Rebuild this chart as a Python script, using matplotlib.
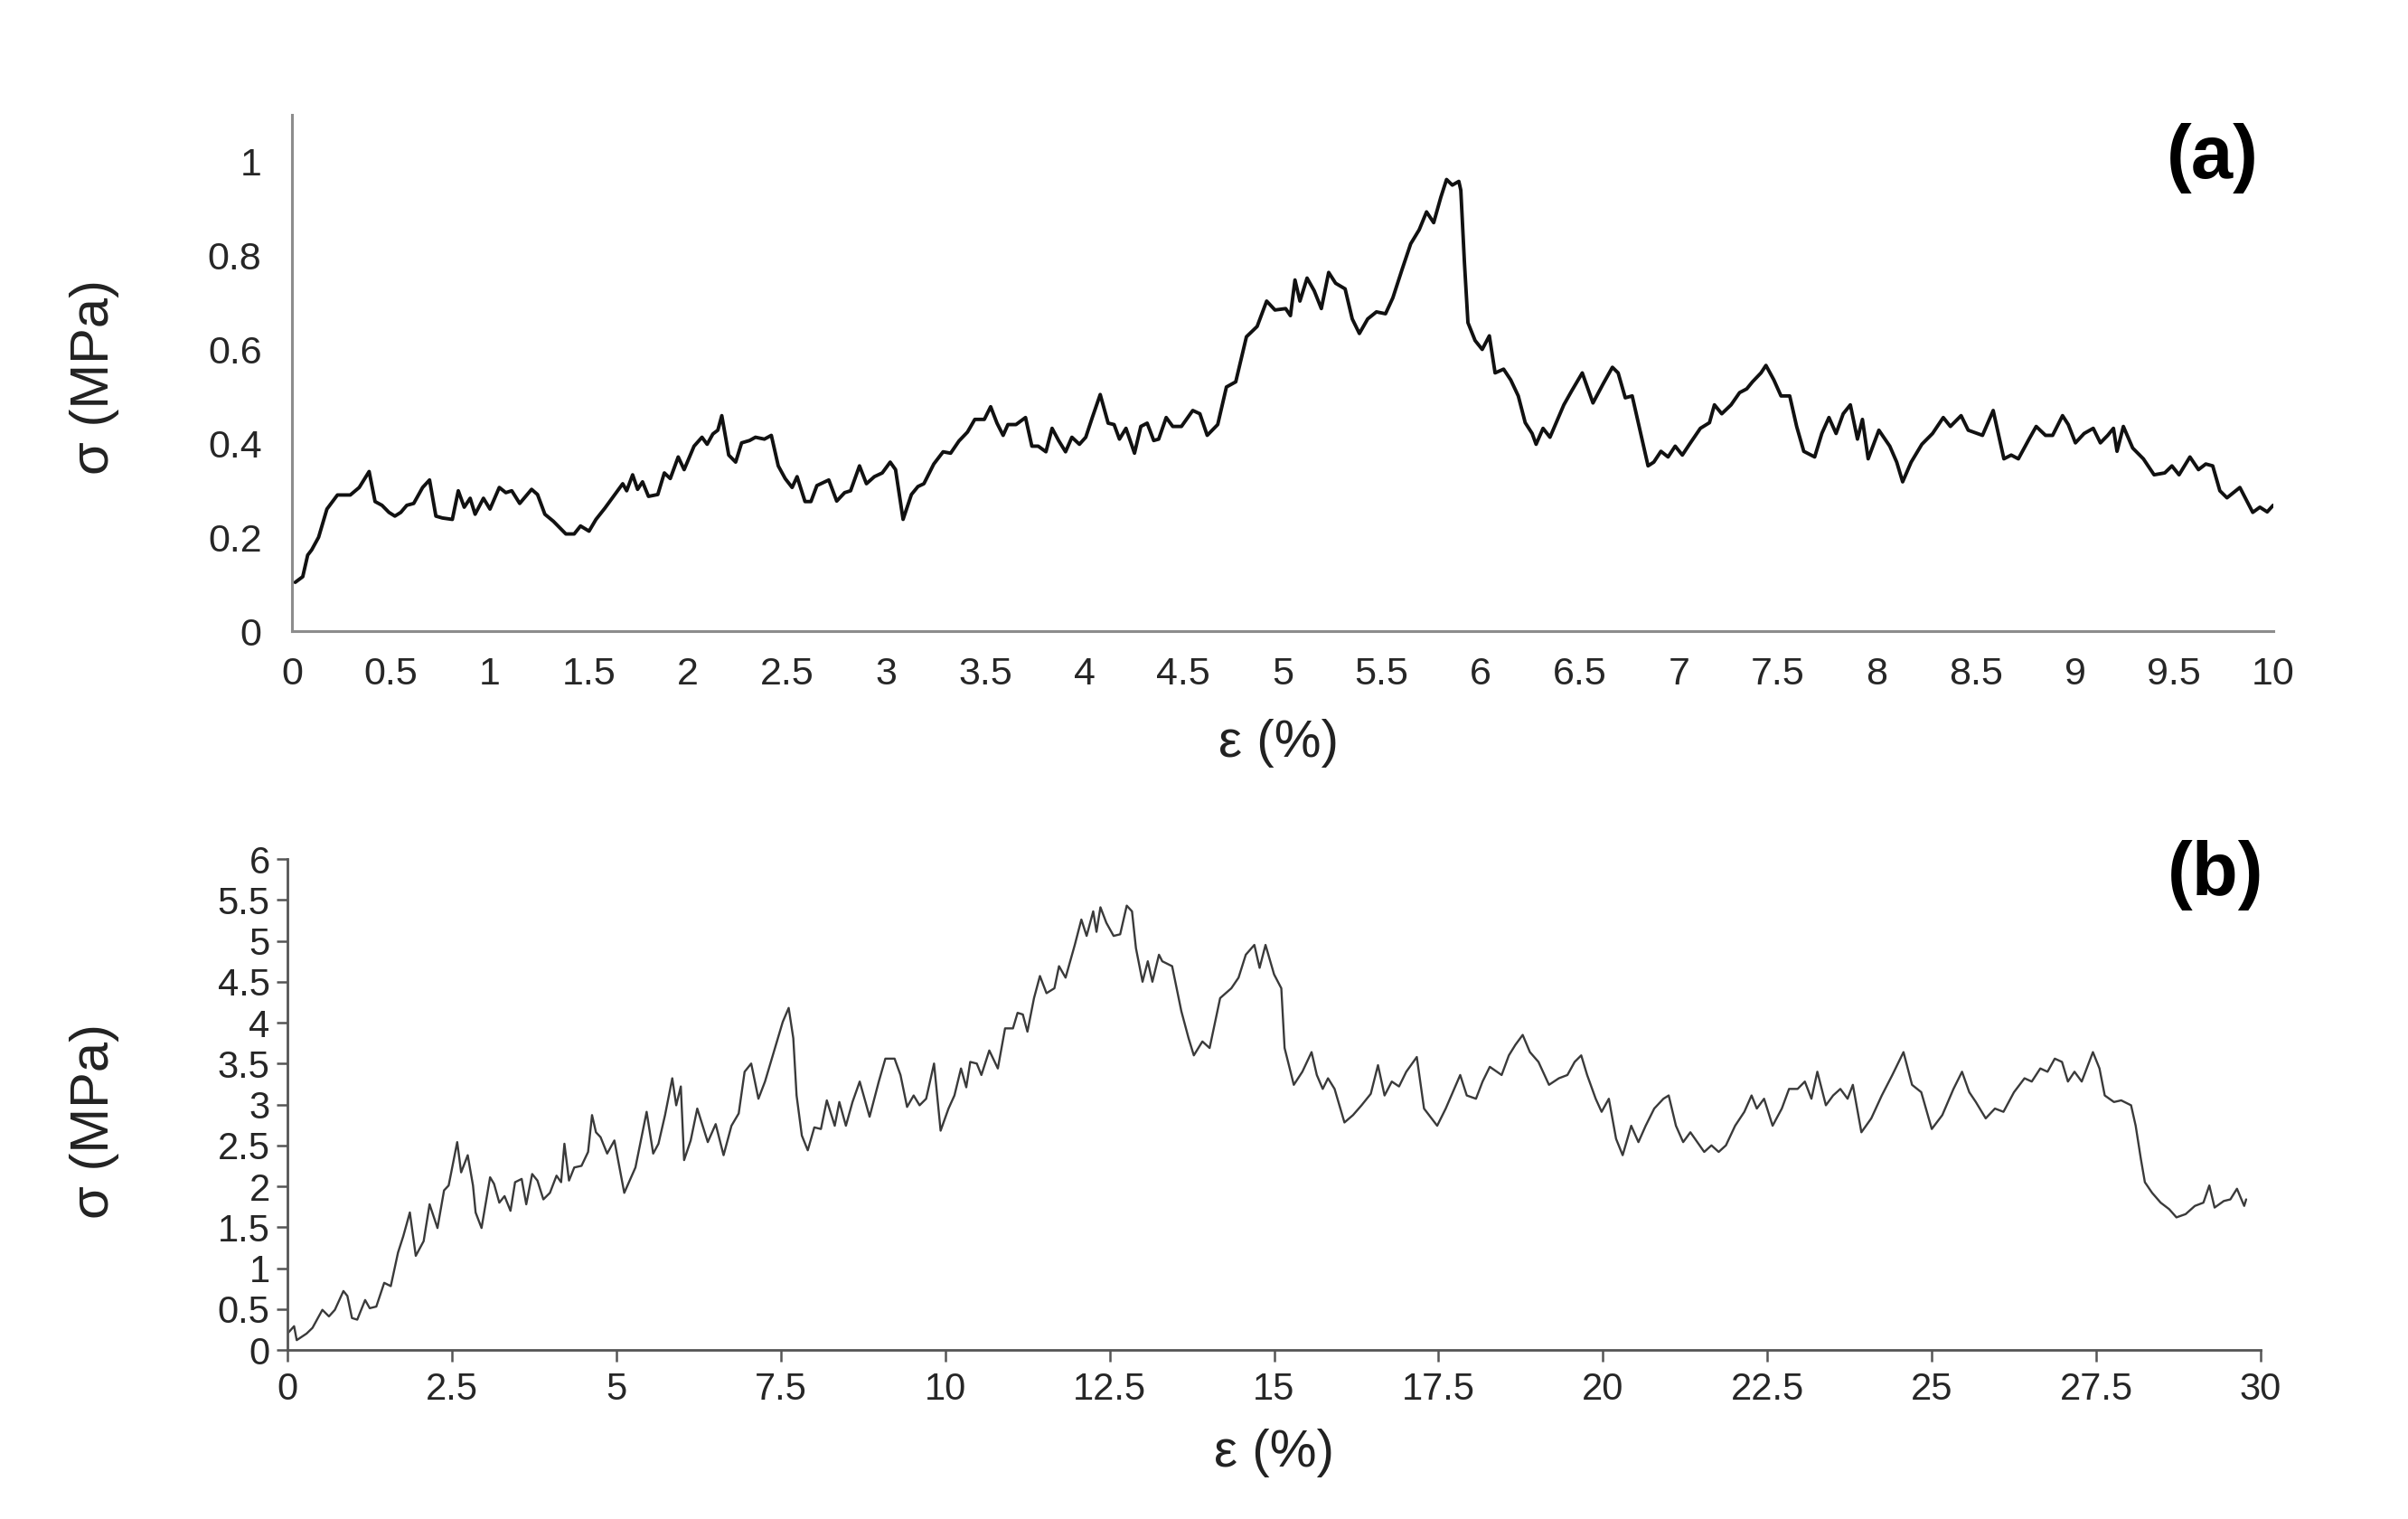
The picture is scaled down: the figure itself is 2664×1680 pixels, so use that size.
import matplotlib
matplotlib.use("Agg")
import matplotlib.pyplot as plt

plt.rcParams['font.family'] = ['Liberation Sans', 'DejaVu Sans']

# ---- panel (a): strain (%) / stress (MPa) ----
strain_a = [
    0.017, 0.055, 0.08, 0.10, 0.135, 0.177, 0.23, 0.295, 0.34, 0.39,
    0.42, 0.455, 0.49, 0.52, 0.55, 0.58, 0.615, 0.66, 0.695, 0.727,
    0.76, 0.81, 0.84, 0.87, 0.90, 0.925, 0.967, 1.0, 1.047, 1.08,
    1.11, 1.15, 1.21, 1.24, 1.277, 1.32, 1.383, 1.425, 1.457, 1.5,
    1.535, 1.58, 1.623, 1.67, 1.69, 1.72, 1.745, 1.77, 1.80, 1.847,
    1.88, 1.91, 1.95, 1.98, 2.03, 2.07, 2.096, 2.125, 2.15, 2.17,
    2.205, 2.24, 2.27, 2.31, 2.34, 2.385, 2.42, 2.455, 2.49, 2.525,
    2.55, 2.59, 2.62, 2.65, 2.71, 2.75, 2.79, 2.82, 2.865, 2.90,
    2.94, 2.98, 3.02, 3.047, 3.085, 3.127, 3.16, 3.19, 3.24, 3.287,
    3.325, 3.367, 3.41, 3.447, 3.495, 3.527, 3.559, 3.59, 3.614, 3.655,
    3.703, 3.735, 3.767, 3.806, 3.837, 3.87, 3.905, 3.937, 3.975, 4.007,
    4.04, 4.08, 4.12, 4.15, 4.177, 4.21, 4.253, 4.285, 4.317, 4.35,
    4.375, 4.413, 4.446,
    4.49, 4.547, 4.583, 4.62, 4.673, 4.717, 4.764, 4.818, 4.872, 4.92,
    4.962, 5.016, 5.04, 5.063, 5.088, 5.124, 5.16, 5.196, 5.233, 5.268,
    5.316, 5.352, 5.388, 5.43, 5.474, 5.52, 5.557, 5.604, 5.647, 5.69,
    5.727, 5.763, 5.799, 5.828, 5.857, 5.89, 5.9, 5.918, 5.936, 5.972,
    6.008, 6.044, 6.073, 6.116, 6.152, 6.19, 6.225, 6.26, 6.28, 6.315,
    6.35, 6.42, 6.46, 6.513, 6.567, 6.62, 6.665, 6.694, 6.73, 6.765,
    6.8, 6.845, 6.874, 6.91, 6.946, 6.982, 7.018, 7.054, 7.109, 7.155,
    7.18, 7.217, 7.264, 7.307, 7.343, 7.372, 7.415, 7.44, 7.48, 7.516,
    7.56, 7.595, 7.631, 7.686, 7.722, 7.758, 7.794, 7.83, 7.866, 7.902,
    7.927, 7.956, 8.01, 8.065, 8.1, 8.13, 8.173, 8.227, 8.281, 8.335,
    8.371, 8.425, 8.461, 8.533, 8.587, 8.641, 8.678, 8.714, 8.768, 8.804,
    8.851, 8.887, 8.937, 8.966, 9.002, 9.046, 9.092, 9.128, 9.165, 9.194,
    9.212, 9.244, 9.291, 9.345, 9.399, 9.453, 9.489, 9.525, 9.58, 9.623,
    9.66, 9.695, 9.731, 9.767, 9.832, 9.897, 9.933, 9.97, 10.0,
]
stress_a = [
    0.104, 0.116, 0.162, 0.173, 0.2, 0.26, 0.29, 0.29, 0.306, 0.34,
    0.276, 0.268, 0.253, 0.245, 0.253, 0.268, 0.272, 0.306, 0.322, 0.245,
    0.241, 0.238, 0.299, 0.264, 0.283, 0.249, 0.283, 0.26, 0.306, 0.295,
    0.299, 0.272, 0.302, 0.291, 0.249, 0.234, 0.207, 0.207, 0.224, 0.213,
    0.238, 0.262, 0.287, 0.314, 0.299, 0.333, 0.302, 0.318, 0.287, 0.291,
    0.337, 0.325, 0.371, 0.344, 0.394, 0.413, 0.398, 0.42, 0.428, 0.459,
    0.375, 0.36, 0.401, 0.406, 0.413, 0.409, 0.417, 0.352, 0.325, 0.306,
    0.329, 0.276, 0.276, 0.31, 0.322, 0.277, 0.295, 0.299, 0.352, 0.314,
    0.329, 0.337, 0.36, 0.344, 0.238, 0.291, 0.308, 0.314, 0.356, 0.382,
    0.379, 0.405, 0.424, 0.451, 0.451, 0.478, 0.443, 0.417, 0.44, 0.44,
    0.455, 0.394, 0.394, 0.382, 0.432, 0.406, 0.382, 0.413, 0.398, 0.413,
    0.455, 0.504, 0.443, 0.44, 0.409, 0.432, 0.379, 0.436, 0.443, 0.406,
    0.409, 0.455, 0.436,
    0.436, 0.47, 0.463, 0.417, 0.44, 0.52, 0.531, 0.627, 0.649, 0.703,
    0.684, 0.687, 0.672, 0.748, 0.703, 0.752, 0.725, 0.687, 0.764, 0.741,
    0.729, 0.665, 0.634, 0.665, 0.68, 0.676, 0.71, 0.771, 0.825, 0.855,
    0.893, 0.87, 0.924, 0.962, 0.95, 0.958, 0.939, 0.787, 0.657, 0.619,
    0.6, 0.629, 0.55, 0.558, 0.535, 0.501, 0.444, 0.421, 0.398, 0.432,
    0.413, 0.482, 0.512, 0.55, 0.486, 0.528, 0.562, 0.55, 0.497, 0.501,
    0.436, 0.352, 0.36, 0.383, 0.371, 0.394, 0.375, 0.398, 0.432, 0.444,
    0.482, 0.463, 0.482, 0.508, 0.516, 0.531, 0.55, 0.566, 0.535, 0.501,
    0.501, 0.436, 0.383, 0.371, 0.421, 0.455, 0.421, 0.463, 0.482, 0.409,
    0.451, 0.367, 0.428, 0.394, 0.36, 0.318, 0.36, 0.398, 0.421, 0.455,
    0.436, 0.459, 0.428, 0.417, 0.47, 0.367, 0.375, 0.367, 0.409, 0.436,
    0.417, 0.417, 0.459, 0.44, 0.401, 0.421, 0.432, 0.401, 0.417, 0.432,
    0.383, 0.436, 0.39, 0.367, 0.333, 0.337, 0.352, 0.333, 0.371, 0.344,
    0.356, 0.352, 0.299, 0.284, 0.306, 0.253, 0.264, 0.254, 0.268,
]

# ---- panel (b) ----
strain_b = [
    0, 0.1, 0.14, 0.29, 0.38, 0.53, 0.63, 0.72, 0.85, 0.91,
    0.98, 1.06, 1.18, 1.25, 1.35, 1.47, 1.57, 1.68, 1.76, 1.86,
    1.95, 2.07, 2.16, 2.28, 2.38, 2.45, 2.58, 2.64, 2.74, 2.82,
    2.86, 2.95, 3.08, 3.14, 3.22, 3.3, 3.39, 3.46, 3.56, 3.63,
    3.72, 3.8, 3.89, 3.99, 4.09, 4.16, 4.21, 4.28, 4.36, 4.47,
    4.57, 4.63, 4.69, 4.76, 4.86, 4.97, 5.12, 5.29, 5.46, 5.56,
    5.64, 5.74, 5.85, 5.91, 5.98, 6.03, 6.13, 6.23, 6.39, 6.51,
    6.63, 6.75, 6.86, 6.95, 7.05, 7.16, 7.26, 7.4, 7.53, 7.62,
    7.69, 7.74, 7.82, 7.91, 8.01, 8.11, 8.2, 8.32, 8.39, 8.49,
    8.59, 8.7, 8.85, 8.99, 9.09, 9.23, 9.32, 9.42, 9.52, 9.61,
    9.71, 9.83, 9.93, 10.05, 10.14, 10.24, 10.32, 10.38, 10.48, 10.55,
    10.67, 10.8, 10.91, 11.03, 11.1, 11.18, 11.25, 11.35, 11.44, 11.54,
    11.66, 11.73, 11.83, 11.97, 12.07, 12.15, 12.25, 12.3, 12.36, 12.45,
    12.56, 12.66, 12.76, 12.84, 12.9, 13.0, 13.08, 13.15, 13.25, 13.3,
    13.45, 13.59, 13.7, 13.78, 13.91, 14.02, 14.18, 14.35, 14.46, 14.57,
    14.7, 14.78, 14.87, 15.0, 15.11, 15.16, 15.3, 15.43, 15.57, 15.65,
    15.74, 15.82, 15.92, 16.07, 16.2, 16.33, 16.47, 16.58, 16.68, 16.79,
    16.9, 17.01, 17.17, 17.28, 17.48, 17.61, 17.83, 17.93, 18.07, 18.17,
    18.28, 18.46, 18.57, 18.67, 18.78, 18.89, 19.02, 19.18, 19.33, 19.46,
    19.57, 19.67, 19.76, 19.89, 19.98, 20.09, 20.2, 20.3, 20.43, 20.54,
    20.65, 20.78, 20.92, 21.0, 21.11, 21.22, 21.33, 21.47, 21.54, 21.65,
    21.76, 21.87, 22.01, 22.15, 22.26, 22.34, 22.45, 22.58, 22.72, 22.83,
    22.96, 23.07, 23.17, 23.26, 23.39, 23.5, 23.61, 23.72, 23.8, 23.93,
    24.08, 24.24, 24.4, 24.57, 24.7, 24.84, 25.0, 25.16, 25.33, 25.46,
    25.57, 25.67, 25.82, 25.96, 26.09, 26.25, 26.41, 26.52, 26.65, 26.76,
    26.87, 26.98, 27.07, 27.17, 27.28, 27.45, 27.55, 27.63, 27.77, 27.88,
    28.03, 28.1, 28.18, 28.24, 28.35, 28.48, 28.61, 28.72, 28.86, 29.0,
    29.13, 29.22, 29.3, 29.44, 29.54, 29.64, 29.75, 29.78,
]
stress_b = [
    0.2, 0.29, 0.12, 0.2, 0.27, 0.49, 0.41, 0.49, 0.72, 0.66,
    0.39, 0.37, 0.61, 0.51, 0.53, 0.82, 0.78, 1.19, 1.39, 1.68,
    1.15, 1.33, 1.78, 1.49, 1.95, 2.01, 2.54, 2.17, 2.38, 2.01,
    1.68, 1.49, 2.11, 2.03, 1.8, 1.88, 1.7, 2.05, 2.09, 1.78,
    2.15, 2.07, 1.84, 1.92, 2.13, 2.05, 2.52, 2.07, 2.23, 2.25,
    2.42, 2.87, 2.66, 2.6, 2.4, 2.56, 1.92, 2.23, 2.91, 2.4,
    2.52, 2.87, 3.32, 2.99, 3.22, 2.32, 2.56, 2.95, 2.54, 2.76,
    2.38, 2.74, 2.89, 3.4, 3.5, 3.07, 3.28, 3.66, 4.01, 4.18,
    3.81, 3.11, 2.62, 2.44, 2.72, 2.7, 3.05, 2.74, 3.03, 2.74,
    3.03, 3.28, 2.85, 3.28, 3.56, 3.56, 3.36, 2.97, 3.11, 2.99,
    3.07, 3.5, 2.68, 2.95, 3.11, 3.44, 3.21, 3.52, 3.5, 3.36,
    3.66, 3.44, 3.93, 3.93, 4.12, 4.1, 3.89, 4.3, 4.57, 4.36,
    4.42, 4.69, 4.55, 4.95, 5.26, 5.06, 5.36, 5.11, 5.41, 5.22,
    5.06, 5.08, 5.43, 5.36, 4.91, 4.5, 4.75, 4.5, 4.83, 4.75,
    4.69, 4.14, 3.81, 3.6, 3.77, 3.69, 4.3, 4.42, 4.55, 4.83,
    4.95, 4.67, 4.95, 4.59, 4.42, 3.69, 3.24, 3.4, 3.64, 3.36,
    3.19, 3.32, 3.19, 2.78, 2.87, 2.99, 3.13, 3.48, 3.11, 3.28,
    3.22, 3.4, 3.58, 2.95, 2.74, 2.95, 3.36, 3.11, 3.07, 3.28,
    3.46, 3.36, 3.6, 3.73, 3.85, 3.64, 3.52, 3.24, 3.32, 3.36,
    3.52, 3.6, 3.36, 3.07, 2.91, 3.07, 2.58, 2.38, 2.74, 2.54,
    2.74, 2.95, 3.07, 3.11, 2.74, 2.54, 2.66, 2.5, 2.42, 2.5,
    2.42, 2.5, 2.74, 2.91, 3.11, 2.95, 3.07, 2.74, 2.95, 3.19,
    3.19, 3.28, 3.07, 3.4, 2.99, 3.11, 3.19, 3.07, 3.24, 2.66,
    2.83, 3.11, 3.36, 3.64, 3.24, 3.15, 2.7, 2.87, 3.19, 3.4,
    3.15, 3.03, 2.83, 2.95, 2.91, 3.15, 3.32, 3.28, 3.44, 3.4,
    3.56, 3.52, 3.28, 3.4, 3.28, 3.64, 3.44, 3.11, 3.03, 3.05,
    2.99, 2.74, 2.33, 2.05, 1.92, 1.8, 1.72, 1.62, 1.66, 1.76,
    1.8, 2.01, 1.74, 1.82, 1.84, 1.97, 1.76, 1.84,
]

xticks_a = [i * 0.5 for i in range(21)]
yticks_a = [0, 0.2, 0.4, 0.6, 0.8, 1]
xticks_b = [i * 2.5 for i in range(13)]
yticks_b = [i * 0.5 for i in range(13)]


def fmt(v):
    return ('%g' % v)


fig = plt.figure(figsize=(26.64, 16.8), dpi=100)

# top panel
ax1 = fig.add_axes([0.1212, 0.5845, 0.8228, 0.34])
ax1.plot(strain_a, stress_a, color='#111111', lw=2.8,
         solid_joinstyle='round', solid_capstyle='round')
ax1.set_xlim(0, 10)
ax1.set_ylim(0, 1.1)
ax1.set_xticks(xticks_a)
ax1.set_xticklabels([fmt(v) for v in xticks_a])
ax1.set_yticks(yticks_a)
ax1.set_yticklabels([fmt(v) for v in yticks_a])
ax1.tick_params(axis='both', length=0, labelsize=31, colors='#262626')
ax1.tick_params(axis='x', pad=20)
ax1.tick_params(axis='y', pad=24)
for s in ['top', 'right']:
    ax1.spines[s].set_visible(False)
for s in ['left', 'bottom']:
    ax1.spines[s].set_color('#8c8c8c')
    ax1.spines[s].set_linewidth(2.2)

# bottom panel
ax2 = fig.add_axes([0.1194, 0.1113, 0.8194, 0.3232])
ax2.plot(strain_b, stress_b, color='#3a3a3a', lw=1.7,
         solid_joinstyle='round', solid_capstyle='round')
ax2.set_xlim(0, 30)
ax2.set_ylim(0, 6)
ax2.set_xticks(xticks_b)
ax2.set_xticklabels([fmt(v) for v in xticks_b])
ax2.set_yticks(yticks_b)
ax2.set_yticklabels([fmt(v) for v in yticks_b])
ax2.tick_params(axis='both', direction='out', length=9, width=1.8,
                color='#555555', labelsize=30, colors='#262626')
ax2.tick_params(axis='x', pad=8)
ax2.tick_params(axis='y', pad=5)
for s in ['top', 'right']:
    ax2.spines[s].set_visible(False)
for s in ['left', 'bottom']:
    ax2.spines[s].set_color('#555555')
    ax2.spines[s].set_linewidth(2.0)

# axis titles
fig.text(0.0394, 0.752, 'σ (MPa)', rotation=90, ha='center', va='center',
         fontsize=43, color='#222222')
fig.text(0.0394, 0.262, 'σ (MPa)', rotation=90, ha='center', va='center',
         fontsize=43, color='#222222')
fig.text(0.531, 0.511, 'ε (%)', ha='center', va='center', fontsize=42, color='#222222')
fig.text(0.529, 0.0434, 'ε (%)', ha='center', va='center', fontsize=42, color='#222222')

# panel tags
fig.text(0.919, 0.896, '(a)', ha='center', va='center', fontsize=60,
         fontweight='bold', color='black')
fig.text(0.92, 0.424, '(b)', ha='center', va='center', fontsize=60,
         fontweight='bold', color='black')

fig.savefig('out.png', dpi=100, facecolor='white')
